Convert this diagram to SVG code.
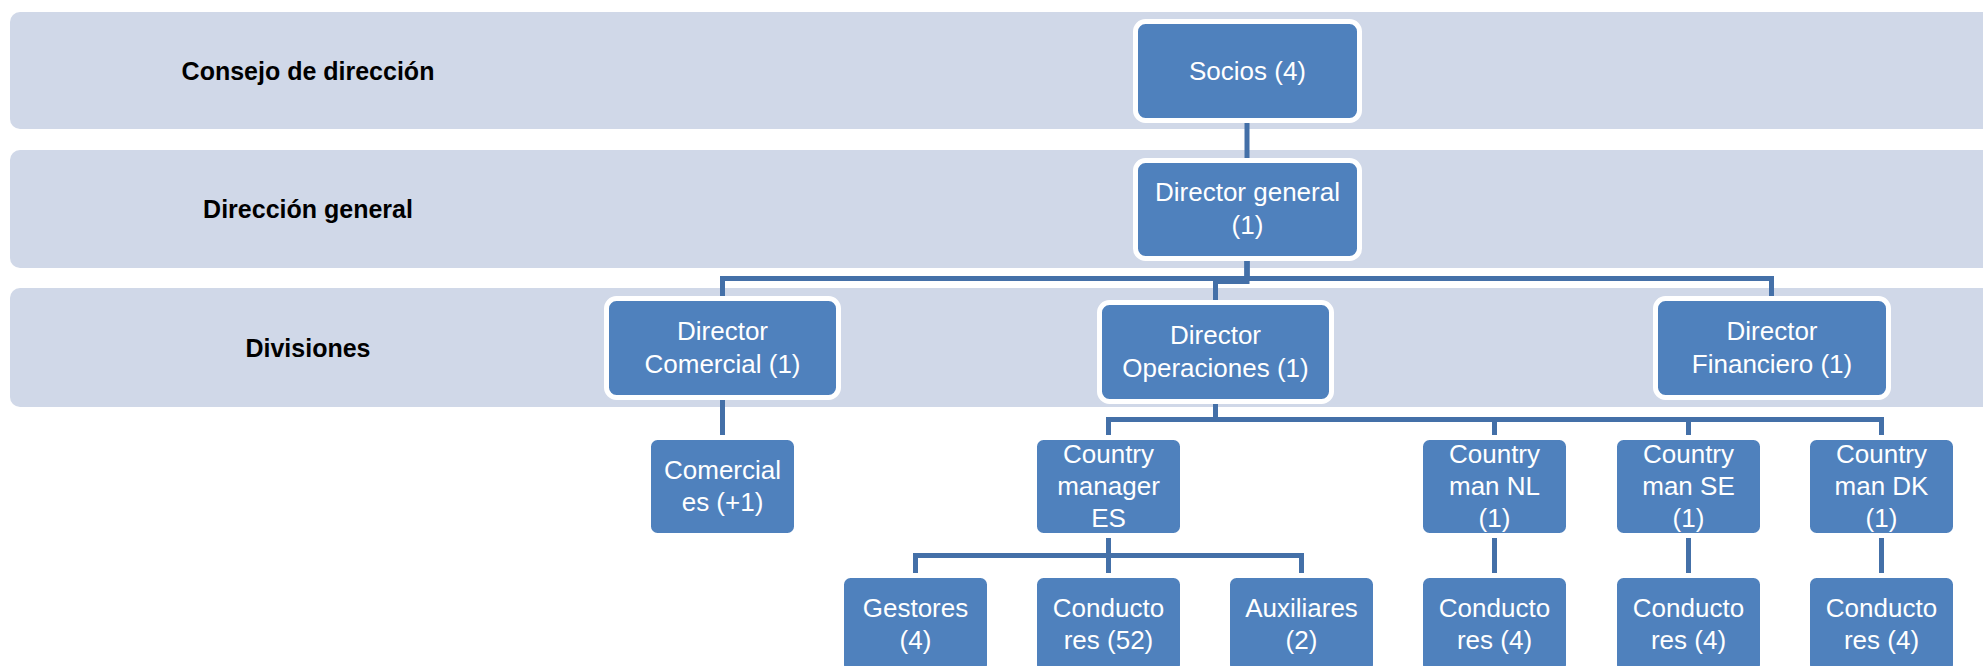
<svg xmlns="http://www.w3.org/2000/svg" width="1983" height="666" viewBox="0 0 1983 666">
  <style>
    .band { fill: #D0D8E8; }
    .band-label { font-family: "Liberation Sans", Arial, sans-serif; font-weight: bold; font-size: 25px; fill: #000000; text-anchor: middle; }
    .box { fill: #4F81BD; stroke: #FFFFFF; stroke-width: 5; }
    .label { font-family: "Liberation Sans", Arial, sans-serif; font-size: 26px; fill: #FFFFFF; text-anchor: middle; }
    .link { fill: none; stroke: #4470A8; stroke-width: 5; stroke-linejoin: miter; }
  </style>

  <!-- Level bands -->
  <g id="bands">
    <rect class="band" x="10" y="12" width="2000" height="117" rx="10"/>
    <rect class="band" x="10" y="150" width="2000" height="118" rx="10"/>
    <rect class="band" x="10" y="288" width="2000" height="119" rx="10"/>
    <text class="band-label" x="308" y="80">Consejo de dirección</text>
    <text class="band-label" x="308" y="218">Dirección general</text>
    <text class="band-label" x="308" y="357">Divisiones</text>
  </g>

  <!-- Connectors -->
  <g id="connectors">
    <path class="link" d="M1247 118 V163"/>
    <path class="link" d="M1247 256 V278.5 H722.5 V301"/>
    <path class="link" d="M1247 256 V278.5 H1771.5 V301"/>
    <path class="link" d="M1247 256 V281.5 H1215.5 V305"/>
    <path class="link" d="M722.5 395 V440"/>
    <path class="link" d="M1215.5 399 V419.5 H1108.5 V440"/>
    <path class="link" d="M1215.5 419.5 H1881.5 V440"/>
    <path class="link" d="M1494.5 419.5 V440"/>
    <path class="link" d="M1688.5 419.5 V440"/>
    <path class="link" d="M1108.5 533 V555.5 H915.5 V578"/>
    <path class="link" d="M1108.5 555.5 H1301.5 V578"/>
    <path class="link" d="M1108.5 555.5 V578"/>
    <path class="link" d="M1494.5 533 V578"/>
    <path class="link" d="M1688.5 533 V578"/>
    <path class="link" d="M1881.5 533 V578"/>
  </g>

  <!-- Board -->
  <g id="socios">
    <rect class="box" x="1135.5" y="21.5" width="224" height="99" rx="10"/>
    <text class="label" x="1247.5" y="80">Socios (4)</text>
  </g>

  <!-- General management -->
  <g id="director-general">
    <rect class="box" x="1135.5" y="160.5" width="224" height="98" rx="10"/>
    <text class="label" x="1247.5" y="201">Director general</text>
    <text class="label" x="1247.5" y="234">(1)</text>
  </g>

  <!-- Divisions -->
  <g id="director-comercial">
    <rect class="box" x="606.5" y="298.5" width="232" height="99" rx="10"/>
    <text class="label" x="722.5" y="340">Director</text>
    <text class="label" x="722.5" y="373">Comercial (1)</text>
  </g>
  <g id="director-operaciones">
    <rect class="box" x="1099.5" y="302.5" width="232" height="99" rx="10"/>
    <text class="label" x="1215.5" y="344">Director</text>
    <text class="label" x="1215.5" y="377">Operaciones (1)</text>
  </g>
  <g id="director-financiero">
    <rect class="box" x="1655.5" y="298.5" width="233" height="99" rx="10"/>
    <text class="label" x="1772" y="340">Director</text>
    <text class="label" x="1772" y="373">Financiero (1)</text>
  </g>

  <!-- Second tier -->
  <g id="comerciales">
    <rect class="box" x="648.5" y="437.5" width="148" height="98" rx="9"/>
    <text class="label" x="722.5" y="479">Comercial</text>
    <text class="label" x="722.5" y="511">es (+1)</text>
  </g>
  <g id="country-manager-es">
    <rect class="box" x="1034.5" y="437.5" width="148" height="98" rx="9"/>
    <text class="label" x="1108.5" y="463">Country</text>
    <text class="label" x="1108.5" y="495">manager</text>
    <text class="label" x="1108.5" y="527">ES</text>
  </g>
  <g id="country-man-nl">
    <rect class="box" x="1420.5" y="437.5" width="148" height="98" rx="9"/>
    <text class="label" x="1494.5" y="463">Country</text>
    <text class="label" x="1494.5" y="495">man NL</text>
    <text class="label" x="1494.5" y="527">(1)</text>
  </g>
  <g id="country-man-se">
    <rect class="box" x="1614.5" y="437.5" width="148" height="98" rx="9"/>
    <text class="label" x="1688.5" y="463">Country</text>
    <text class="label" x="1688.5" y="495">man SE</text>
    <text class="label" x="1688.5" y="527">(1)</text>
  </g>
  <g id="country-man-dk">
    <rect class="box" x="1807.5" y="437.5" width="148" height="98" rx="9"/>
    <text class="label" x="1881.5" y="463">Country</text>
    <text class="label" x="1881.5" y="495">man DK</text>
    <text class="label" x="1881.5" y="527">(1)</text>
  </g>

  <!-- Staff -->
  <g id="gestores">
    <rect class="box" x="841.5" y="575.5" width="148" height="98" rx="9"/>
    <text class="label" x="915.5" y="617">Gestores</text>
    <text class="label" x="915.5" y="649">(4)</text>
  </g>
  <g id="conductores-es">
    <rect class="box" x="1034.5" y="575.5" width="148" height="98" rx="9"/>
    <text class="label" x="1108.5" y="617">Conducto</text>
    <text class="label" x="1108.5" y="649">res (52)</text>
  </g>
  <g id="auxiliares">
    <rect class="box" x="1227.5" y="575.5" width="148" height="98" rx="9"/>
    <text class="label" x="1301.5" y="617">Auxiliares</text>
    <text class="label" x="1301.5" y="649">(2)</text>
  </g>
  <g id="conductores-nl">
    <rect class="box" x="1420.5" y="575.5" width="148" height="98" rx="9"/>
    <text class="label" x="1494.5" y="617">Conducto</text>
    <text class="label" x="1494.5" y="649">res (4)</text>
  </g>
  <g id="conductores-se">
    <rect class="box" x="1614.5" y="575.5" width="148" height="98" rx="9"/>
    <text class="label" x="1688.5" y="617">Conducto</text>
    <text class="label" x="1688.5" y="649">res (4)</text>
  </g>
  <g id="conductores-dk">
    <rect class="box" x="1807.5" y="575.5" width="148" height="98" rx="9"/>
    <text class="label" x="1881.5" y="617">Conducto</text>
    <text class="label" x="1881.5" y="649">res (4)</text>
  </g>
</svg>
